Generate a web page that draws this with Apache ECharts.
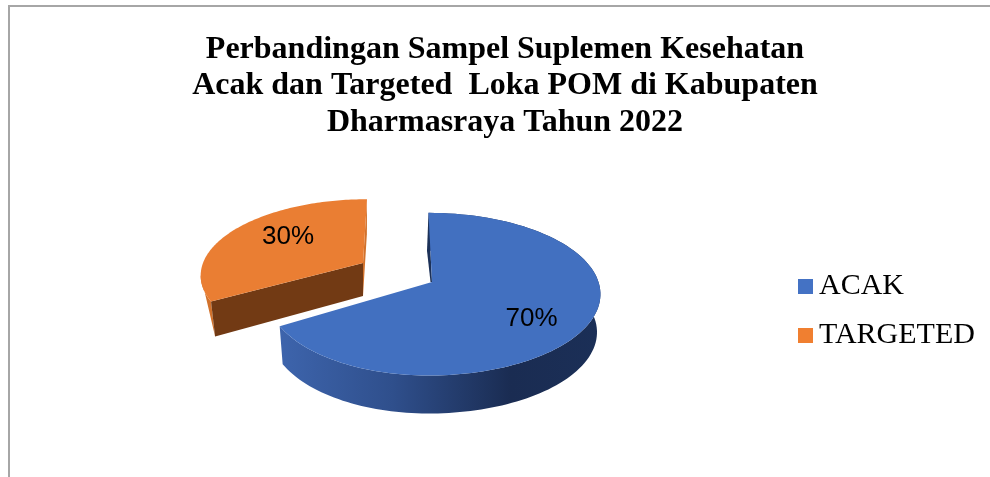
<!DOCTYPE html>
<html><head><meta charset="utf-8">
<style>html,body{margin:0;padding:0;background:#fff}#c{width:990px;height:477px}</style>
<script src="https://cdn.jsdelivr.net/npm/echarts@6/dist/echarts.min.js"></script>
</head><body><div id="c"></div>
<script>
const categories = ['ACAK', 'TARGETED'];
const percentValues = [70, 30];
const titleLines = ['Perbandingan Sampel Suplemen Kesehatan', 'Acak dan Targeted  Loka POM di Kabupaten', 'Dharmasraya Tahun 2022'];

const total = percentValues.reduce((a, b) => a + b, 0);
const RAD = Math.PI / 180;
// Tilted 3-D view of each slice; warp is the apparent-angle correction of that view, in degrees.
const views = [
  { ox: 428.5, oy: 282, apexX: 432, rx: 170, rxLeft: 160, ry: 79.5, persp: 0.15, skew: 0, depth: 38, apexDepth: 38, shrink: 0.98, warp: 13.5, labelX: 103, labelY: 37 },
  { ox: 363, oy: 263, apexX: 363, rx: 160, rxLeft: 160, ry: 73, persp: 0.1447, skew: -4, depth: 35, apexDepth: 33, shrink: 0.973, warp: 12, labelX: -75, labelY: -26 }
];

function project(v, deg) {
  const a = (deg + v.warp * Math.sin(deg * RAD)) * RAD, X = Math.sin(a), Y = -Math.cos(a), w = 1 - v.persp * Y;
  return [v.ox + (X < 0 ? v.rxLeft : v.rx) * X / w + v.skew * Y, v.oy + v.ry * Y / w];
}
const lower = (v, p) => [v.ox + (p[0] - v.ox) * v.shrink, p[1] + v.depth];
function rim(v, from, to) {
  const pts = [], n = 120;
  for (let i = 0; i <= n; i++) pts.push(project(v, from + (to - from) * i / n));
  return pts;
}
const poly = (points, fill) => ({ type: 'polygon', shape: { points }, style: { fill } });

function sliceAngles(index) {
  const before = percentValues.slice(0, index).reduce((a, b) => a + b, 0);
  return [before / total * 360, (before + percentValues[index]) / total * 360];
}

const blueWall = new echarts.graphic.LinearGradient(281, 0, 600, 0, [
  { offset: 0, color: '#3D64AC' }, { offset: 0.35, color: '#2F4F8C' },
  { offset: 0.72, color: '#1A2C52' }, { offset: 1, color: '#1B2F57' }], true);

function renderSlice(index) {
  return function (params, api) {
    const v = views[index], [a0, a1] = sliceAngles(index);
    const value = api.value(0);
    const edge = rim(v, a0, a1), apex = [v.apexX, v.oy];
    const first = edge[0], last = edge[edge.length - 1];
    const children = [];
    if (index === 0) {
      children.push(poly(edge.concat(edge.map(p => lower(v, p)).reverse()), blueWall));
      const lf = lower(v, first);
      children.push(poly([first, [lf[0] - 1.5, lf[1]], [apex[0] - 1.5, apex[1]], apex], '#1C3158'));
      children.push(poly([apex].concat(edge), '#4270C0'));
    } else {
      const lf = lower(v, first), lowApex = [apex[0], apex[1] + v.apexDepth];
      let ext = 0;
      edge.forEach((p, i) => { if (p[0] < edge[ext][0]) ext = i; });
      children.push(poly(edge.slice(0, ext + 1).concat([lf]), '#D2722C'));
      children.push(poly([last, lower(v, last), lowApex, apex], '#D2722C'));
      children.push(poly([first, apex, lowApex, lf], '#723A14'));
      children.push(poly([apex].concat(edge), '#EA7E33'));
    }
    children.push({
      type: 'text',
      style: {
        x: v.ox + v.labelX, y: v.oy + v.labelY, text: value + '%',
        fill: '#000', font: '26px "Liberation Sans", Arial, sans-serif',
        align: 'center', verticalAlign: 'middle'
      }
    });
    return { type: 'group', children };
  };
}

const chart = echarts.init(document.getElementById('c'), null, { renderer: 'canvas' });
chart.setOption({
  animation: false,
  backgroundColor: '#fff',
  title: {
    text: titleLines.join('\n'),
    left: 500, top: 26, textAlign: 'center',
    textStyle: { fontFamily: '"Liberation Serif", serif', fontWeight: 'bold', fontSize: 32, lineHeight: 36.5, color: '#000' }
  },
  legend: {
    orient: 'vertical', left: 793, top: 263, itemWidth: 15, itemHeight: 15, itemGap: 12, icon: 'rect',
    data: categories,
    textStyle: { fontFamily: '"Liberation Serif", serif', fontSize: 30, color: '#000', padding: [2, 0, 0, 1], lineHeight: 35 }
  },
  graphic: [
    { type: 'rect', silent: true, shape: { x: 8, y: 5, width: 982, height: 2 }, style: { fill: '#A6A6A6' } },
    { type: 'rect', silent: true, shape: { x: 8, y: 5, width: 2, height: 472 }, style: { fill: '#A6A6A6' } }
  ],
  series: [
    { type: 'custom', name: categories[1], coordinateSystem: 'none', z: 2, data: [percentValues[1]], renderItem: renderSlice(1), itemStyle: { color: '#F07F30' } },
    { type: 'custom', name: categories[0], coordinateSystem: 'none', z: 3, data: [percentValues[0]], renderItem: renderSlice(0), itemStyle: { color: '#4472C4' } }
  ]
});
</script></body></html>
